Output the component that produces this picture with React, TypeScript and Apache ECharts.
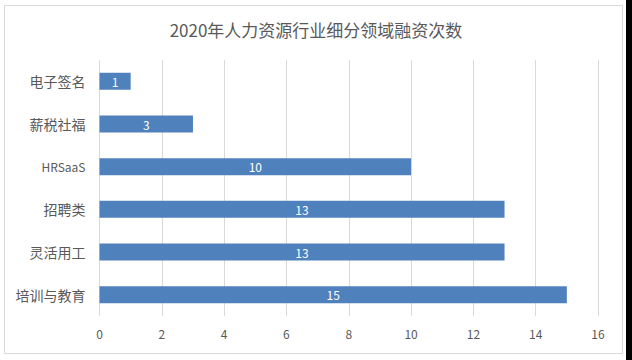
import React, { useEffect, useRef } from "react";
import * as echarts from "echarts";

const categories = ["电子签名", "薪税社福", "HRSaaS", "招聘类", "灵活用工", "培训与教育"];
const values = [1, 3, 10, 13, 13, 15];
const titleText = "2020年人力资源行业细分领域融资次数";

export default function App() {
  const ref = useRef<HTMLDivElement>(null);
  useEffect(() => {
    if (!ref.current) return;
    const chart = echarts.init(ref.current, null, { renderer: "svg" });
    chart.setOption({
      animation: false,
      backgroundColor: "#ffffff",
      title: {
        text: titleText,
        left: "center",
        top: 16,
        textStyle: {
          fontFamily: "Noto Sans CJK SC",
          fontSize: 17,
          fontWeight: "normal",
          color: "#595959",
        },
      },
      graphic: [
        {
          type: "rect",
          shape: { x: 4.5, y: 5.5, width: 618, height: 348 },
          style: { fill: "none", stroke: "#d9d9d9", lineWidth: 1 },
          silent: true,
        },
        {
          type: "rect",
          shape: { x: 626, y: 0, width: 6, height: 360 },
          style: { fill: "#000000" },
          silent: true,
        },
      ],
      grid: { left: 99.5, right: 34, top: 60, bottom: 44, containLabel: false },
      xAxis: {
        type: "value",
        min: 0,
        max: 16,
        interval: 2,
        axisLine: { show: false },
        axisTick: { show: false },
        splitLine: { show: true, lineStyle: { color: "#d9d9d9", width: 1 } },
        axisLabel: {
          color: "#595959",
          fontSize: 12,
          fontFamily: "Noto Sans CJK SC",
          margin: 11,
        },
      },
      yAxis: {
        type: "category",
        data: categories,
        inverse: true,
        axisLine: { show: false },
        axisTick: { show: false },
        axisLabel: {
          color: "#595959",
          fontSize: 14,
          fontFamily: "Noto Sans CJK SC",
          margin: 14,
          rich: {
            s: { fontSize: 12, color: "#595959", fontFamily: "Noto Sans CJK SC" },
          },
          formatter: (v: string) => (v === "HRSaaS" ? "{s|" + v + "}" : v),
        },
      },
      series: [
        {
          type: "bar",
          data: values,
          barWidth: 17,
          itemStyle: { color: "#4f81bd" },
          label: {
            show: true,
            position: "inside",
            color: "#ffffff",
            fontSize: 12,
            fontFamily: "Noto Sans CJK SC",
          },
        },
      ],
    });
    return () => chart.dispose();
  }, []);
  return (
    <div
      ref={ref}
      style={{ position: "fixed", left: 0, top: 0, width: 632, height: 360 }}
    />
  );
}
